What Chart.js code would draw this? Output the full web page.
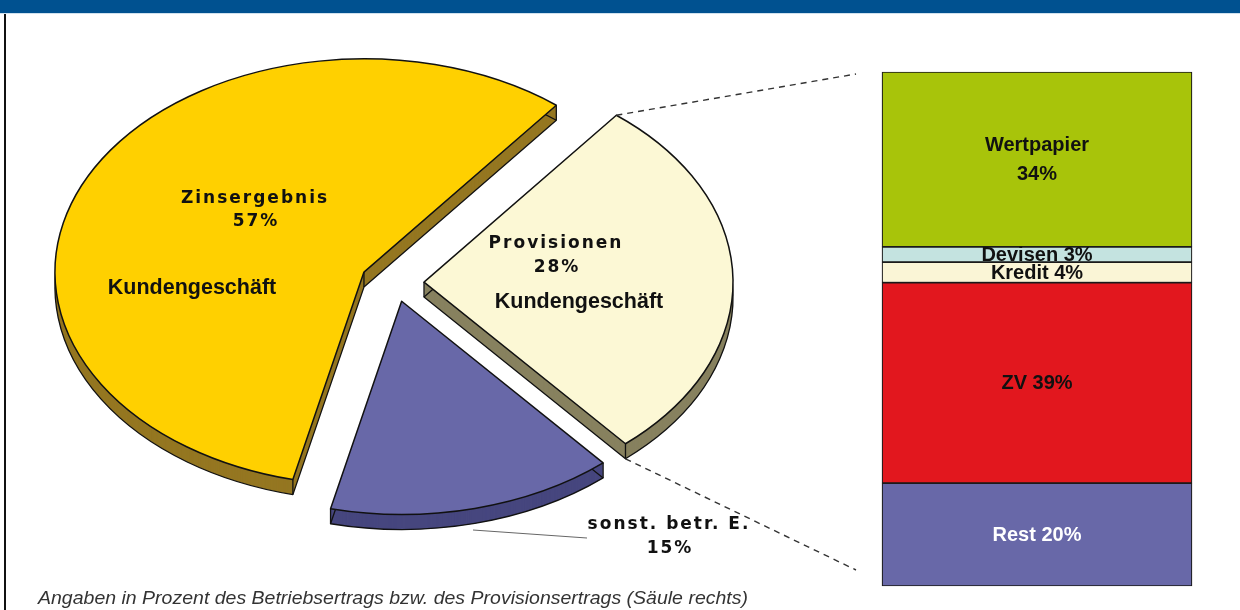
<!DOCTYPE html>
<html><head><meta charset="utf-8">
<script src="https://cdn.jsdelivr.net/npm/chart.js@4.4.1/dist/chart.umd.min.js"></script>
<style>
html,body{margin:0;padding:0;background:#fff;}
body{width:1240px;height:610px;position:relative;overflow:hidden;font-family:"Liberation Sans",Arial,sans-serif;}
#banner{position:absolute;left:0;top:0;width:1240px;height:13px;background:#005190;}
#bannerLine{position:absolute;left:0;top:13px;width:1240px;height:1px;background:#cfe1ee;}
#frame{position:absolute;left:4px;top:14px;width:1.5px;height:596px;background:#111;}
#pie{position:absolute;left:0;top:0;}
#bar{position:absolute;left:870px;top:60px;}
#caption{position:absolute;left:38px;top:589px;font-style:italic;font-size:18px;line-height:18px;color:#333;white-space:nowrap;transform-origin:0 0;}
</style></head>
<body>
<div id="banner"></div><div id="bannerLine"></div><div id="frame"></div>
<canvas id="pie" width="860" height="610"></canvas>
<canvas id="bar" width="334" height="538"></canvas>
<div id="caption">Angaben in Prozent des Betriebsertrags bzw. des Provisionsertrags (Säule rechts)</div>
<script>
// ---- data ----
const pieCategories = ["Provisionen", "sonst. betr. E.", "Zinsergebnis"];
const pieValues = [28, 15, 57];
const pieSubLabels = ["Kundengeschäft", "", "Kundengeschäft"];

const barCategories = ["Rest", "ZV", "Kredit", "Devisen", "Wertpapier"];
const barValues = [20, 39, 4, 3, 34];

// ---- styles ----
const PIE_TOP = ["#FCF8D5", "#6868A8", "#FFD000"];
const PIE_SIDE = ["#87815F", "#47477F", "#957722"];
const EXPLODE = [29, 28, 34.5];
const K = 0.69, DEPTH = 15;
const BAR_COLORS = ["#6868A8", "#E2171E", "#FAF5D6", "#C4E3E0", "#A8C40A"];
const BAR_TEXT = ["#ffffff", "#111111", "#111111", "#111111", "#111111"];

function centerOf(chart){
  const ca = chart.chartArea;
  return {cx:(ca.left+ca.right)/2, cy:(ca.top+ca.bottom)/2};
}
function geo(chart){
  const {cy} = centerOf(chart);
  return chart.getDatasetMeta(0).data.map(a=>({
    px:a.x, py: cy + (a.y-cy)*K, R:a.outerRadius, a0:a.startAngle, a1:a.endAngle
  }));
}
function sector(ctx, g, dy){
  ctx.beginPath();
  ctx.moveTo(g.px, g.py+dy);
  ctx.ellipse(g.px, g.py+dy, g.R, g.R*K, 0, g.a0, g.a1);
  ctx.closePath();
}
function pt(g, a, dy){ return [g.px + g.R*Math.cos(a), g.py + g.R*K*Math.sin(a) + dy]; }

const pie3d = {
  id:'pie3d',
  afterDatasetUpdate(chart, args){
    const {cx, cy} = centerOf(chart);
    args.meta.data.forEach((arc,i)=>{
      const mid = (arc.startAngle+arc.endAngle)/2;
      arc.x = cx + Math.cos(mid)*EXPLODE[i];
      arc.y = cy + Math.sin(mid)*EXPLODE[i];
    });
  },
  beforeDatasetsDraw(chart){
    const ctx = chart.ctx;
    const {cy} = centerOf(chart);
    geo(chart).forEach((g,i)=>{
      ctx.save();
      ctx.fillStyle = PIE_SIDE[i];
      for(let d=DEPTH; d>=1; d-=0.5){ sector(ctx,g,d); ctx.fill(); }
      ctx.strokeStyle = '#111'; ctx.lineWidth = 1.3; ctx.lineJoin='round';
      sector(ctx,g,DEPTH); ctx.stroke();
      ctx.beginPath();
      ctx.moveTo(g.px,g.py); ctx.lineTo(g.px,g.py+DEPTH);
      [g.a0,g.a1].forEach(a=>{const p=pt(g,a,0); ctx.moveTo(p[0],p[1]); ctx.lineTo(p[0],p[1]+DEPTH);});
      ctx.stroke();
      ctx.restore();
    });
    ctx.save();
    ctx.translate(0,cy); ctx.scale(1,K); ctx.translate(0,-cy);
  },
  afterDatasetsDraw(chart){
    const ctx = chart.ctx;
    ctx.restore();
    const G = geo(chart);
    ctx.save();
    ctx.strokeStyle = '#111'; ctx.lineWidth = 1.5; ctx.lineJoin='round';
    G.forEach(g=>{ sector(ctx,g,0); ctx.stroke(); });
    // dashed connectors from the Provisionen slice to the column
    const c = G[0];
    const t = pt(c, c.a0, 0), b = pt(c, c.a1, DEPTH);
    ctx.setLineDash([6,5]); ctx.lineWidth = 1.4; ctx.strokeStyle = '#333';
    ctx.beginPath(); ctx.moveTo(t[0],t[1]); ctx.lineTo(856,74);
    ctx.moveTo(b[0],b[1]); ctx.lineTo(856,570); ctx.stroke();
    ctx.setLineDash([]);
    // leader line for sonst. betr. E.
    ctx.strokeStyle = '#666'; ctx.lineWidth = 1;
    ctx.beginPath(); ctx.moveTo(473,530); ctx.lineTo(587,538); ctx.stroke();
    // labels
    ctx.fillStyle = '#111'; ctx.textAlign='center'; ctx.textBaseline='middle';
    const pos = [
      {name:[555,244], pct:[556,268], sub:[579,302]},
      {name:[668,525], pct:[669,549], sub:null},
      {name:[254,199], pct:[255,222], sub:[192,288]}
    ];
    pieCategories.forEach((n,i)=>{
      const p = pos[i];
      ctx.font = 'bold 17px "DejaVu Sans", sans-serif';
      ctx.letterSpacing = '2px';
      ctx.fillText(n, p.name[0]+1, p.name[1]);
      ctx.fillText(pieValues[i]+'%', p.pct[0]+1, p.pct[1]);
      ctx.letterSpacing = '0px';
      if(pieSubLabels[i] && p.sub){
        ctx.font = 'bold 21.5px "Liberation Sans", Arial, sans-serif';
        ctx.fillText(pieSubLabels[i], p.sub[0], p.sub[1]);
      }
    });
    ctx.restore();
  }
};

new Chart(document.getElementById('pie'), {
  type:'pie',
  data:{labels:pieCategories, datasets:[{data:pieValues, backgroundColor:PIE_TOP, borderWidth:0, clip:false}]},
  options:{
    responsive:false, animation:false, devicePixelRatio:1,
    rotation:38.5, radius:309,
    layout:{padding:{left:0,right:70,top:0,bottom:45}},
    plugins:{legend:{display:false}, tooltip:{enabled:false}}
  },
  plugins:[pie3d]
});

const barLabels = {
  id:'barLabels',
  afterDatasetsDraw(chart){
    const ctx = chart.ctx;
    ctx.save();
    ctx.textAlign='center'; ctx.textBaseline='middle';
    ctx.font = 'bold 20px "Liberation Sans", Arial, sans-serif';
    chart.data.datasets.forEach((ds,i)=>{
      const el = chart.getDatasetMeta(i).data[0];
      const yc = (el.y + el.base)/2;
      ctx.fillStyle = BAR_TEXT[i];
      const name = barCategories[i], v = barValues[i] + '%';
      if(name === 'Wertpapier'){
        ctx.fillText(name, el.x, yc-14);
        ctx.fillText(v, el.x, yc+15);
      } else {
        ctx.fillText(name + ' ' + v, el.x, yc+1);
      }
    });
    ctx.restore();
  }
};

new Chart(document.getElementById('bar'), {
  type:'bar',
  data:{labels:[''], datasets:barCategories.map((c,i)=>({
    label:c, data:[barValues[i]], backgroundColor:BAR_COLORS[i], borderColor:'#1a1a1a',
    borderWidth:1.2, borderSkipped:false, barPercentage:1, categoryPercentage:1, clip:false
  }))},
  options:{
    responsive:false, animation:false, devicePixelRatio:1,
    layout:{padding:12},
    plugins:{legend:{display:false}, tooltip:{enabled:false}},
    scales:{x:{display:false, stacked:true}, y:{display:false, stacked:true, min:0, max:100}}
  },
  plugins:[barLabels]
});

const cap = document.getElementById('caption');
const w = cap.getBoundingClientRect().width;
cap.style.transform = 'scaleX(' + (710/w) + ')';
</script>
</body></html>
